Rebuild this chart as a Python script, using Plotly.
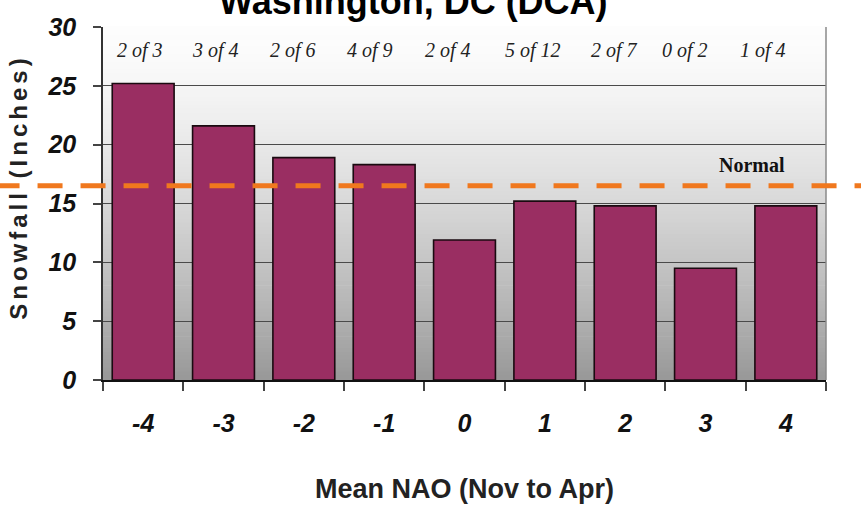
import plotly.graph_objects as go

# Mean Nov-Apr NAO bins and average seasonal snowfall at DCA
nao_bins = ["-4", "-3", "-2", "-1", "0", "1", "2", "3", "4"]
snowfall = [25.2, 21.6, 18.9, 18.3, 11.9, 15.2, 14.8, 9.5, 14.8]
above_normal = ["2 of 3", "3 of 4", "2 of 6", "4 of 9", "2 of 4",
                "5 of 12", "2 of 7", "0 of 2", "1 of 4"]
NORMAL = 16.5
Y_MAX = 30
y_ticks = [0, 5, 10, 15, 20, 25, 30]

# horizontal placement (paper fraction) of the "x of n" counts along the top
count_label_x = [0.051, 0.155, 0.263, 0.369, 0.477, 0.595, 0.708, 0.805, 0.913]

BAR = "#9A2E62"
ORANGE = "#F0781E"
SANS = "Liberation Sans, Arial, sans-serif"
SERIF = "Liberation Serif, Times New Roman, serif"

fig = go.Figure(go.Bar(
    x=nao_bins, y=snowfall,
    marker=dict(color=BAR, line=dict(color="#1a0a10", width=1.6)),
    hoverinfo="x+y",
))

# vertical white-to-grey gradient behind the bars
shapes = []
n = 90
top_rgb, bot_rgb = (253, 253, 253), (152, 152, 152)
for i in range(n):
    t = (i + 0.5) / n              # 0 at top, 1 at bottom
    w = t ** 1.45
    c = tuple(round(a + (b - a) * w) for a, b in zip(top_rgb, bot_rgb))
    shapes.append(dict(
        type="rect", xref="paper", yref="paper",
        x0=0, x1=1, y0=1 - (i + 1) / n, y1=1 - i / n + 0.002,
        fillcolor="rgb(%d,%d,%d)" % c, line=dict(width=0), layer="below",
    ))

# right frame edge
shapes.append(dict(type="line", xref="paper", yref="paper", x0=1, x1=1, y0=0, y1=1,
                   line=dict(color="#8a8a8a", width=1.5), layer="above"))

# normal snowfall reference line, running across the full width
shapes.append(dict(
    type="line", xref="paper", yref="paper",
    x0=-0.15, x1=1.06, y0=NORMAL / Y_MAX, y1=NORMAL / Y_MAX,
    line=dict(color=ORANGE, width=5, dash="25px,18px"), layer="above",
))

annotations = []
for xp, txt in zip(count_label_x, above_normal):
    annotations.append(dict(
        x=xp, y=28.0, xref="paper", yref="y", xanchor="center",
        text="<i>%s</i>" % txt,
        showarrow=False, font=dict(family=SERIF, size=20, color="#222"),
    ))

annotations.append(dict(
    x=0.898, y=18.3, xref="paper", yref="y", xanchor="center", text="<b>Normal</b>",
    showarrow=False, font=dict(family=SERIF, size=20, color="#111"),
))

annotations.append(dict(
    x=0.43, y=1.072, xref="paper", yref="paper", xanchor="center",
    text="<b>Washington, DC (DCA)</b>",
    showarrow=False, yanchor="middle", font=dict(family=SANS, size=36, color="#000"),
))

sp = "\u200a\u200a"
annotations.append(dict(
    x=-0.117, y=0.54, xref="paper", yref="paper", xanchor="center", yanchor="middle",
    text="<b>%s</b>" % sp.join("Snowfall (Inches)"),
    showarrow=False, textangle=-90, font=dict(family=SANS, size=24, color="#222"),
))

annotations.append(dict(
    x=0.5, y=-0.31, xref="paper", yref="paper", xanchor="center", yanchor="middle",
    text="<b>Mean NAO (Nov to Apr)</b>",
    showarrow=False, font=dict(family=SANS, size=27, color="#222"),
))

fig.update_layout(
    width=861, height=506,
    margin=dict(l=103, r=35, t=27, b=126),
    paper_bgcolor="white", plot_bgcolor="rgba(0,0,0,0)",
    bargap=0.23, showlegend=False,
    shapes=shapes, annotations=annotations,
)

fig.update_xaxes(
    type="category", tickson="boundaries", ticks="outside", ticklen=9,
    tickcolor="#444", tickwidth=1.5,
    showline=True, linecolor="#111", linewidth=1.5,
    showgrid=False,
    tickfont=dict(family=SANS, size=25, color="#111", weight="bold", style="italic"),
    ticklabelstandoff=20,
)
fig.update_yaxes(
    range=[0, Y_MAX], tickvals=y_ticks,
    ticks="outside", ticklen=8, tickcolor="#444", tickwidth=1.5,
    showline=True, linecolor="#333", linewidth=1.5,
    showgrid=True, gridcolor="#4a4a4a", gridwidth=1.2,
    zeroline=False,
    tickfont=dict(family=SANS, size=25, color="#111", weight="bold", style="italic"),
    ticklabelstandoff=12,
)

fig.write_html("out.html")
